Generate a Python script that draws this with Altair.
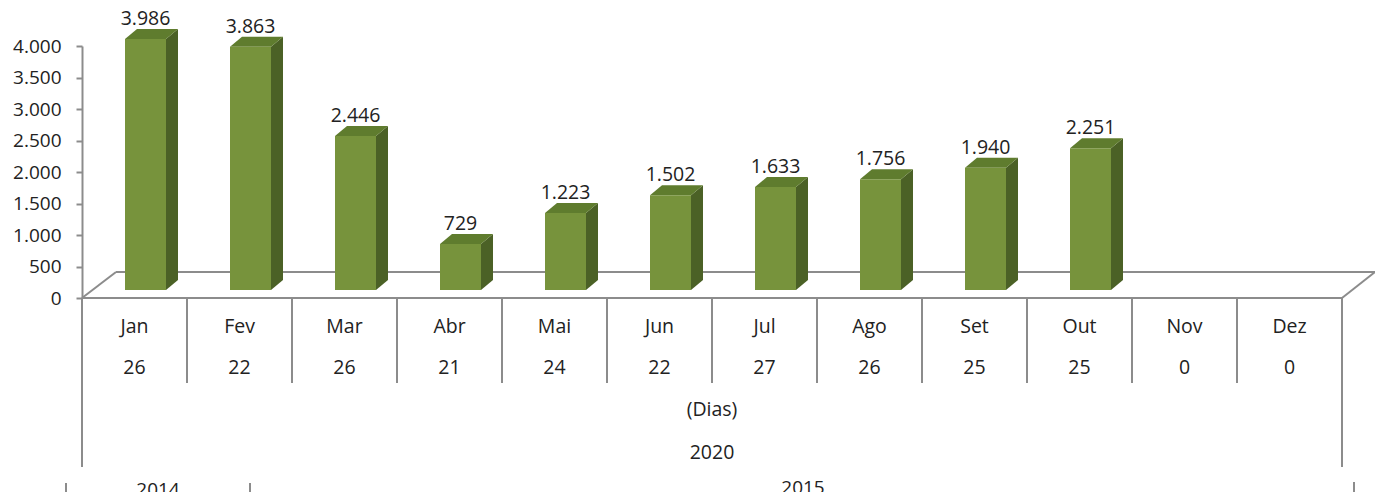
import altair as alt
import pandas as pd

# ---------------- data ----------------
months = ["Jan", "Fev", "Mar", "Abr", "Mai", "Jun", "Jul", "Ago", "Set", "Out", "Nov", "Dez"]
values = [3986, 3863, 2446, 729, 1223, 1502, 1633, 1756, 1940, 2251, None, None]
days = [26, 22, 26, 21, 24, 22, 27, 26, 25, 25, 0, 0]
y_ticks = [0, 500, 1000, 1500, 2000, 2500, 3000, 3500, 4000]
unit_label = "(Dias)"
year_label = "2020"
ghost_labels = ["2014", "2015"]

# ---------------- layout / style ----------------
PLOT_W, PLOT_H = 1293, 484
X_SPAN = 1260                 # pixels covered by the 12 month columns
Y0, Y_TOP = 290, 38           # pixel rows of 0 and 4000
PX_X = X_SPAN / len(months)
PX_Y = (Y0 - Y_TOP) / 4000
FRONT_DX, FRONT_DY = 11, 8    # bars sit a little behind the front edge of the floor
BAR_W = 41
DEPTH_DX, DEPTH_DY = 12, 10
FLOOR_DX, FLOOR_DY = 34, 26

FONT = "Open Sans"
TXT = "#222222"
LINE = "#8c8c8c"
FRONT_C = "#77933c"
TOP_C = "#5f7c2e"
SIDE_C = "#4b6126"
TABLE_FS = 19.5

xs = alt.Scale(domain=[0, len(months)], range=[0, X_SPAN], nice=False, zero=False)
ys = alt.Scale(domain=[0, 4000], range=[Y0, Y_TOP], nice=False, zero=False)
yax = alt.Axis(
    values=y_ticks,
    title=None,
    grid=False,
    labelExpr="replace(format(datum.value, ','), ',', '.')",
    labelFont=FONT,
    labelFontSize=19,
    labelColor=TXT,
    labelPadding=15,
    tickSize=6,
    tickColor=LINE,
    tickWidth=2,
    domainColor=LINE,
    domainWidth=2,
)


def fmt(v):
    return f"{v:,}".replace(",", ".")


front_rows, side_rows, top_rows, label_rows = [], [], [], []
base = FRONT_DY / PX_Y
dxd = DEPTH_DX / PX_X
dyd = DEPTH_DY / PX_Y
for i, (m, v) in enumerate(zip(months, values)):
    if v is None:
        continue
    cx = i + 0.5
    xl = cx + (FRONT_DX - BAR_W / 2) / PX_X
    xr = cx + (FRONT_DX + BAR_W / 2) / PX_X
    top = v + base
    front_rows.append({"m": m, "xl": xl, "xr": xr, "top": top, "base": base})
    side_rows += [
        {"m": m, "px": xr, "hi": top, "lo": base},
        {"m": m, "px": xr + dxd, "hi": top + dyd, "lo": base + dyd},
    ]
    top_rows += [
        {"m": m, "px": xl, "hi": top, "lo": top},
        {"m": m, "px": xl + dxd, "hi": top + dyd, "lo": top},
        {"m": m, "px": xr, "hi": top + dyd, "lo": top},
        {"m": m, "px": xr + dxd, "hi": top + dyd, "lo": top + dyd},
    ]
    label_rows.append({"c": cx, "v": v, "lab": fmt(v)})

front_df = pd.DataFrame(front_rows)
side_df = pd.DataFrame(side_rows)
top_df = pd.DataFrame(top_rows)
label_df = pd.DataFrame(label_rows)
table_df = pd.DataFrame({"c": [i + 0.5 for i in range(len(months))], "m": months, "d": [str(d) for d in days]})
bounds_df = pd.DataFrame({"b": list(range(len(months) + 1))})
one = pd.DataFrame({"k": [0]})


def rule(x, x2, y, y2, width=2):
    return alt.Chart(one).mark_rule(color=LINE, strokeWidth=width).encode(
        x=alt.value(x), x2=alt.value(x2), y=alt.value(y), y2=alt.value(y2)
    )


def note(text, x, y, size=TABLE_FS, baseline="middle"):
    return alt.Chart(pd.DataFrame({"t": [text]})).mark_text(
        font=FONT, fontSize=size, color=TXT, baseline=baseline
    ).encode(x=alt.value(x), y=alt.value(y), text="t:N")


def face(df, colour):
    return alt.Chart(df).mark_area(
        color=colour, fill=colour, interpolate="linear", orient="vertical", opacity=1
    ).encode(
        x=alt.X("px:Q", scale=xs, axis=None),
        y=alt.Y("hi:Q", scale=ys, axis=yax, stack=None),
        y2=alt.Y2("lo:Q"),
        detail=alt.Detail("m:N"),
    )


# floor (back edge and sides, drawn behind the bars)
floor = (
    rule(FLOOR_DX, X_SPAN + FLOOR_DX - 1, Y0 - FLOOR_DY, Y0 - FLOOR_DY)
    + rule(0, FLOOR_DX, Y0, Y0 - FLOOR_DY)
    + rule(X_SPAN, X_SPAN + FLOOR_DX - 1, Y0, Y0 - FLOOR_DY)
    + rule(0, X_SPAN, Y0, Y0)
)

front = alt.Chart(front_df).mark_rect(color=FRONT_C).encode(
    x=alt.X("xl:Q", scale=xs, axis=None),
    x2="xr:Q",
    y=alt.Y("top:Q", scale=ys, axis=yax),
    y2="base:Q",
)

side = face(side_df, SIDE_C)
topf = face(top_df, TOP_C)

labels = alt.Chart(label_df).mark_text(
    font=FONT, fontSize=19.5, color=TXT, dx=FRONT_DX, dy=-22, baseline="alphabetic", align="center"
).encode(
    x=alt.X("c:Q", scale=xs, axis=None),
    y=alt.Y("v:Q", scale=ys, axis=yax),
    text="lab:N",
)

# data table below the chart
inner = alt.Chart(bounds_df).transform_filter(
    (alt.datum.b > 0) & (alt.datum.b < len(months))
).mark_rule(color=LINE, strokeWidth=2).encode(
    x=alt.X("b:Q", scale=xs, axis=None), y=alt.value(Y0), y2=alt.value(375)
)
outer = alt.Chart(bounds_df).transform_filter(
    (alt.datum.b == 0) | (alt.datum.b == len(months))
).mark_rule(color=LINE, strokeWidth=2).encode(
    x=alt.X("b:Q", scale=xs, axis=None), y=alt.value(Y0), y2=alt.value(459)
)
month_txt = alt.Chart(table_df).mark_text(font=FONT, fontSize=TABLE_FS, color=TXT, baseline="middle").encode(
    x=alt.X("c:Q", scale=xs, axis=None), y=alt.value(319), text="m:N"
)
day_txt = alt.Chart(table_df).mark_text(font=FONT, fontSize=TABLE_FS, color=TXT, baseline="middle").encode(
    x=alt.X("c:Q", scale=xs, axis=None), y=alt.value(360), text="d:N"
)
unit_txt = note(unit_label, X_SPAN / 2, 402)
year_txt = note(year_label, X_SPAN / 2, 445)

# remnants of an underlying chart, cut by the bottom edge
ghost_txt = note(ghost_labels[0], 76, 488, 19, "alphabetic") + note(ghost_labels[1], 721, 486, 19, "alphabetic")
ghost_lines = rule(-16, -16, 475, 492) + rule(168, 168, 475, 492) + rule(1272, 1272, 474, 492)

chart = alt.layer(
    floor, side, topf, front, labels, inner, outer, month_txt, day_txt, unit_txt, year_txt,
    ghost_txt, ghost_lines,
).properties(
    width=PLOT_W,
    height=PLOT_H,
    autosize=alt.AutoSizeParams(type="none"),
    padding={"left": 74, "top": 0, "right": 0, "bottom": 0},
    background="white",
).configure_view(stroke=None)

chart.save("out.html", embed_options={"renderer": "svg", "actions": False})
